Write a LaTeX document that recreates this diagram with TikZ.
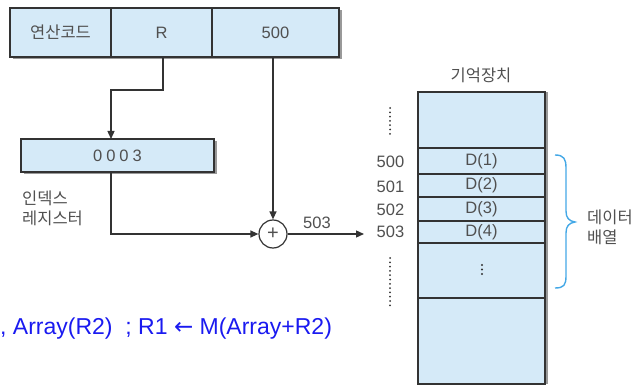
\documentclass[tikz,border=0pt]{standalone}
\usepackage{fontspec}
\setmainfont{Liberation Sans}
\newfontfamily\kr{Noto Sans CJK KR}
\newfontfamily\djv{DejaVu Sans}
\usetikzlibrary{shadows,arrows.meta}
\definecolor{boxc}{HTML}{D5EAF8}
\definecolor{linec}{HTML}{333333}
\definecolor{txtc}{HTML}{505050}
\definecolor{bracec}{HTML}{44A8E6}
\definecolor{codec}{HTML}{1A1AF0}
\tikzset{
  fbox/.style={draw=linec, fill=boxc, line width=1.4pt, inner sep=0pt, outer sep=0pt,
    anchor=north west, text=txtc, font=\fontsize{16.5}{19}\selectfont,
    drop shadow={shadow xshift=2.5pt, shadow yshift=-2.5pt, fill=black!40, opacity=1}},
  cell/.style={draw=linec, fill=boxc, line width=1.4pt, inner sep=0pt, outer sep=0pt,
    anchor=north west, minimum width=127pt, text=txtc, font=\fontsize{16.5}{19}\selectfont,
    drop shadow={shadow xshift=3pt, shadow yshift=0pt, fill=black!40, opacity=1}},
  lbl/.style={text=txtc, inner sep=0pt, font=\fontsize{16.5}{20}\selectfont},
  conn/.style={draw=linec, line width=1.3pt},
  arr/.style={conn, -{Triangle[length=8pt,width=7pt]}},
  dotline/.style={draw=linec, line width=2pt, line cap=round, dash pattern=on 0pt off 4.3pt}
}
\begin{document}
\begin{tikzpicture}[x=1pt,y=-1pt]
\useasboundingbox (0,0) rectangle (635,385);

% instruction
\node[fbox, minimum width=101pt, minimum height=49pt] (opc) at (10,8) {\kr 연산코드};
\node[fbox, minimum width=101pt, minimum height=49pt] (rfield) at (111,8) {R};
\node[fbox, minimum width=127pt, minimum height=49pt] (addr) at (212,8) {500};

% index register
\node[fbox, minimum width=193pt, minimum height=33pt] (idx) at (21,139) {0\kern4pt0\kern4pt0\kern4pt3};
\node[lbl, anchor=west] (idxl1) at (22,198) {\kr 인덱스};
\node[lbl, anchor=west] (idxl2) at (22,218) {\kr 레지스터};

% adder
\node[draw=linec, line width=1.2pt, fill=white, circle, minimum size=28pt, inner sep=0pt,
      text=txtc, font=\fontsize{20}{20}\selectfont] (adder) at (273,234) {+};
\coordinate (rturn) at (111,90);
\coordinate (mend) at (364,234);

\draw[arr] (rfield.south -| 163,0) |- (rturn) -- (rturn |- idx.north);
\draw[arr] (addr.south -| adder) -- (adder.north);
\draw[arr] (rturn |- idx.south) |- (adder.west);
\draw[arr] (adder.east) -- (mend);
\node[lbl] (sum) at (317,223) {503};

% memory
\node[lbl] (memt) at (481,75) {\kr 기억장치};
\node[cell, minimum height=56pt] (mtop) at (418,92) {};
\node[cell, minimum height=26pt] (m1) at (418,148) {D(1)};
\node[cell, minimum height=23pt] (m2) at (418,174) {D(2)};
\node[cell, minimum height=24pt] (m3) at (418,197) {D(3)};
\node[cell, minimum height=22pt] (m4) at (418,221) {D(4)};
\node[cell, minimum height=55pt] (mdots) at (418,243) {};
\node[cell, minimum height=86pt] (mbot) at (418,298) {};

\node[lbl] (a500) at (390.5,162) {500};
\node[lbl] (a501) at (390.5,187) {501};
\node[lbl] (a502) at (390.5,210) {502};
\node[lbl] (a503) at (390.5,232) {503};

\draw[dotline] (390,108) -- (390,138);
\draw[dotline] (390,258) -- (390,306);
\draw[draw=linec, line width=2.2pt, line cap=round, dash pattern=on 0pt off 4.5pt] (482,265) -- (482,275);

% brace
\draw[bracec, line width=1.4pt] (555,155) .. controls (564,155) and (566,159) .. (566,168) -- (566,211)
  .. controls (566,218) and (569,221) .. (575,222)
  .. controls (569,223) and (566,226) .. (566,233) -- (566,276)
  .. controls (566,285) and (564,288) .. (555,288);
\node[lbl, anchor=west] (arr1) at (587,217) {\kr 데이터};
\node[lbl, anchor=west] (arr2) at (587,237) {\kr 배열};

% code line
\node[anchor=base west, inner sep=0pt, text=codec, font=\fontsize{23}{26}\selectfont] (code) at (0,334)
  {, Array(R2)~~; R1 {\djv ←} M(Array+R2)};
\end{tikzpicture}
\end{document}
